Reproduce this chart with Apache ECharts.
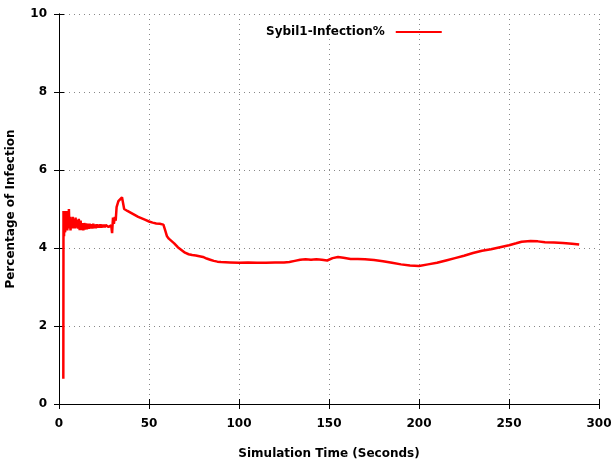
<!DOCTYPE html>
<html><head><meta charset="utf-8">
<script src="https://cdn.jsdelivr.net/npm/echarts@6/dist/echarts.min.js"></script>
<style>html,body{margin:0;padding:0;background:#fff}#c{width:613px;height:461px}</style>
</head><body><div id="c"></div>
<script>
var xTicks = [0, 50, 100, 150, 200, 250, 300];
var yTicks = [0, 2, 4, 6, 8, 10];
var seriesName = 'Sybil1-Infection%';
var times = [2.4, 2.5, 2.8, 3.1, 3.4, 3.7, 4.0, 4.3, 4.6, 4.9, 5.2, 5.5, 5.8, 6.1, 6.4, 6.8, 7.2, 7.6, 8.0, 8.4, 8.8, 9.2, 9.6, 10.0, 10.5, 11.0, 11.5, 12.0, 12.5, 13.0, 13.5, 14.0, 14.5, 15.0, 15.5, 16.0, 16.5, 17.0, 17.5, 18.0, 18.5, 19.0, 19.5, 20.0, 20.5, 21.0, 21.5, 22.0, 22.5, 23.0, 23.5, 24.0, 24.5, 25.0, 25.5, 26.0, 26.5, 27.0, 27.5, 28.0, 28.5, 29.0, 29.5, 30.0, 30.5, 31.0, 31.5, 32.0, 33.0, 34.0, 35.0, 35.6, 36.2, 38, 40, 42, 44, 46, 48, 50, 52, 54, 56, 58, 59, 60, 61, 62, 64, 66, 68, 70, 72, 74, 76, 78, 80, 82, 84, 86, 88, 90, 95, 100, 105, 110, 115, 120, 125, 128, 131, 134, 137, 140, 143, 146, 149, 152, 155, 158, 162, 166, 170, 175, 180, 185, 190, 195, 200, 205, 210, 215, 220, 225, 230, 235, 240, 245, 250, 254, 257, 262, 266, 270, 275, 280, 285, 289];
var values = [0.65, 4.95, 4.3, 4.95, 4.4, 4.9, 4.5, 4.95, 4.45, 4.85, 4.5, 5.0, 4.5, 4.8, 4.45, 4.75, 4.5, 4.8, 4.5, 4.75, 4.5, 4.78, 4.52, 4.72, 4.5, 4.75, 4.46, 4.7, 4.46, 4.64, 4.45, 4.64, 4.47, 4.63, 4.48, 4.62, 4.49, 4.62, 4.5, 4.61, 4.5, 4.62, 4.51, 4.6, 4.51, 4.61, 4.52, 4.6, 4.52, 4.61, 4.52, 4.6, 4.53, 4.6, 4.53, 4.59, 4.54, 4.6, 4.54, 4.59, 4.55, 4.58, 4.38, 4.78, 4.62, 4.8, 4.7, 5.05, 5.2, 5.25, 5.3, 5.3, 5.0, 4.95, 4.9, 4.85, 4.8, 4.76, 4.72, 4.68, 4.65, 4.63, 4.62, 4.6, 4.45, 4.3, 4.24, 4.2, 4.12, 4.02, 3.95, 3.88, 3.84, 3.82, 3.81, 3.79, 3.77, 3.73, 3.7, 3.67, 3.65, 3.64, 3.63, 3.62, 3.63, 3.62, 3.62, 3.63, 3.63, 3.64, 3.67, 3.7, 3.71, 3.7, 3.71, 3.7, 3.68, 3.74, 3.77, 3.75, 3.72, 3.72, 3.71, 3.69, 3.66, 3.62, 3.58, 3.55, 3.54, 3.58, 3.62, 3.68, 3.74, 3.8, 3.87, 3.93, 3.97, 4.02, 4.07, 4.12, 4.16, 4.18, 4.17, 4.15, 4.14, 4.13, 4.11, 4.09, 4.08];

var data = times.map(function (t, i) { return [t, values[i]]; });
var lbl = {fontFamily: 'DejaVu Sans', fontWeight: 'bold', fontSize: 12, color: '#000'};
var grid = {show: true, lineStyle: {color: '#888', width: 1, type: [1, 4]}};
var chart = echarts.init(document.getElementById('c'), null, {renderer: 'canvas'});
chart.setOption({
  animation: false,
  backgroundColor: '#fff',
  grid: {left: 59, right: 14, top: 14, bottom: 57, containLabel: false, outerBoundsMode: 'none'},
  legend: {
    data: [{name: seriesName, icon: 'rect'}],
    left: 261, top: 21, align: 'right', itemWidth: 46, itemHeight: 2,
    textStyle: {fontFamily: 'DejaVu Sans', fontWeight: 'bold', fontSize: 12, color: '#000', padding: [0, 6, 0, 0]}
  },
  xAxis: [{
    type: 'value', min: 0, max: 300, interval: 50,
    name: 'Simulation Time (Seconds)', nameLocation: 'middle', nameGap: 44,
    nameTextStyle: lbl,
    axisLine: {show: true, lineStyle: {color: '#000', width: 1}},
    axisTick: {show: true, inside: true, length: 5, lineStyle: {color: '#000'}},
    axisLabel: Object.assign({margin: 14, formatter: function (v) { return xTicks.indexOf(v) >= 0 ? String(v) : ''; }}, lbl),
    splitLine: grid
  }, {
    type: 'value', min: 0, max: 300, interval: 50, position: 'top',
    axisLine: {show: true, lineStyle: {color: '#000', width: 1}},
    axisTick: {show: true, inside: true, length: 5, lineStyle: {color: '#000'}},
    axisLabel: {show: false}, splitLine: {show: false}
  }],
  yAxis: [{
    type: 'value', min: 0, max: 10, interval: 2,
    name: 'Percentage of Infection', nameLocation: 'middle', nameGap: 42,
    nameTextStyle: lbl,
    axisLine: {show: true, lineStyle: {color: '#000', width: 1}},
    axisTick: {show: true, inside: true, length: 5, lineStyle: {color: '#000'}},
    axisLabel: Object.assign({margin: 12, formatter: function (v) { return yTicks.indexOf(v) >= 0 ? String(v) : ''; }}, lbl),
    splitLine: grid
  }, {
    type: 'value', min: 0, max: 10, interval: 2, position: 'right',
    axisLine: {show: true, lineStyle: {color: '#000', width: 1}},
    axisTick: {show: true, inside: true, length: 5, lineStyle: {color: '#000'}},
    axisLabel: {show: false}, splitLine: {show: false}
  }],
  series: [{
    name: seriesName, type: 'line', data: data, showSymbol: false, symbol: 'none',
    lineStyle: {color: '#ff0000', width: 2.5}, itemStyle: {color: '#ff0000'}
  }]
});
</script></body></html>
